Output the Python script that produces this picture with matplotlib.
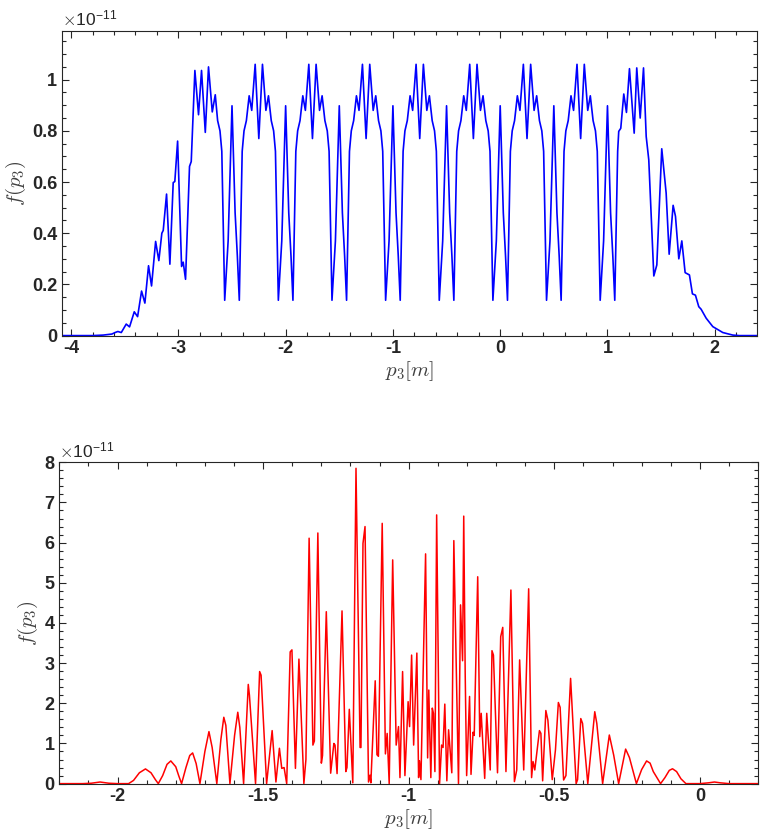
import numpy as np
import matplotlib
matplotlib.use("Agg")
import matplotlib.pyplot as plt
from matplotlib.ticker import MultipleLocator, FormatStrFormatter

# ---------------------------------------------------------------
# values, y in units of 1e-11
# ---------------------------------------------------------------

# top panel, left rising edge
top_x_left = [-4.085, -3.80, -3.70, -3.62, -3.59, -3.564, -3.532, -3.486, -3.455, -3.411,
              -3.380, -3.343, -3.312, -3.278, -3.250, -3.212, -3.182, -3.154, -3.141, -3.110,
              -3.079, -3.048, -3.033, -3.007, -2.970, -2.955, -2.933, -2.896, -2.880, -2.846,
              -2.812, -2.784, -2.749, -2.719, -2.684, -2.656, -2.634, -2.612, -2.595, -2.568,
              -2.536, -2.512]
top_y_left = [0.0, 0.0, 0.002, 0.006, 0.012, 0.016, 0.012, 0.045, 0.034, 0.093,
              0.074, 0.174, 0.127, 0.273, 0.194, 0.368, 0.293, 0.400, 0.411, 0.553,
              0.279, 0.598, 0.602, 0.760, 0.270, 0.287, 0.220, 0.661, 0.680, 1.036,
              0.863, 1.036, 0.794, 1.050, 0.874, 0.941, 0.84, 0.80, 0.72, 0.138,
              0.37, 0.72]

# top panel, repeating middle part (one list per 0.5 wide block)
top_x_mid = [
    [-2.500, -2.488, -2.471, -2.450, -2.432, -2.405, -2.388, -2.366, -2.340, -2.316, -2.284,
     -2.250, -2.216, -2.184, -2.160, -2.134, -2.112, -2.095, -2.068, -2.036, -2.012],
    [-2.000, -1.988, -1.971, -1.950, -1.932, -1.905, -1.888, -1.866, -1.840, -1.816, -1.784,
     -1.750, -1.716, -1.684, -1.660, -1.634, -1.612, -1.595, -1.568, -1.536, -1.512],
    [-1.500, -1.488, -1.471, -1.450, -1.432, -1.405, -1.388, -1.366, -1.340, -1.316, -1.284,
     -1.250, -1.216, -1.184, -1.160, -1.134, -1.112, -1.095, -1.068, -1.036, -1.012],
    [-1.000, -0.988, -0.971, -0.950, -0.932, -0.905, -0.888, -0.866, -0.840, -0.816, -0.784,
     -0.750, -0.716, -0.684, -0.660, -0.634, -0.612, -0.595, -0.568, -0.536, -0.512],
    [-0.500, -0.488, -0.471, -0.450, -0.432, -0.405, -0.388, -0.366, -0.340, -0.316, -0.284,
     -0.250, -0.216, -0.184, -0.160, -0.134, -0.112, -0.095, -0.068, -0.036, -0.012],
    [0.000, 0.012, 0.029, 0.050, 0.068, 0.095, 0.112, 0.134, 0.160, 0.184, 0.216,
     0.250, 0.284, 0.316, 0.340, 0.366, 0.388, 0.405, 0.432, 0.464, 0.488],
    [0.500, 0.512, 0.529, 0.550, 0.568, 0.595, 0.612, 0.634, 0.660, 0.684, 0.716,
     0.750, 0.784, 0.816, 0.840, 0.866, 0.888, 0.905, 0.932, 0.964, 0.988],
]
top_y_mid = [
    [0.898, 0.72, 0.48, 0.31, 0.138, 0.72, 0.80, 0.84, 0.937, 0.880, 1.060,
     0.770, 1.060, 0.880, 0.937, 0.84, 0.80, 0.72, 0.138, 0.37, 0.72],
    [0.898, 0.72, 0.48, 0.31, 0.138, 0.72, 0.80, 0.84, 0.937, 0.880, 1.060,
     0.770, 1.060, 0.880, 0.937, 0.84, 0.80, 0.72, 0.138, 0.37, 0.72],
    [0.898, 0.72, 0.48, 0.31, 0.138, 0.72, 0.80, 0.84, 0.937, 0.880, 1.060,
     0.770, 1.060, 0.880, 0.937, 0.84, 0.80, 0.72, 0.138, 0.37, 0.72],
    [0.898, 0.72, 0.48, 0.31, 0.138, 0.72, 0.80, 0.84, 0.937, 0.880, 1.060,
     0.770, 1.060, 0.880, 0.937, 0.84, 0.80, 0.72, 0.138, 0.37, 0.72],
    [0.898, 0.72, 0.48, 0.31, 0.138, 0.72, 0.80, 0.84, 0.937, 0.880, 1.060,
     0.770, 1.060, 0.880, 0.937, 0.84, 0.80, 0.72, 0.138, 0.37, 0.72],
    [0.898, 0.72, 0.48, 0.31, 0.138, 0.72, 0.80, 0.84, 0.937, 0.880, 1.060,
     0.770, 1.060, 0.880, 0.937, 0.84, 0.80, 0.72, 0.138, 0.37, 0.72],
    [0.898, 0.72, 0.48, 0.31, 0.138, 0.72, 0.80, 0.84, 0.937, 0.880, 1.060,
     0.770, 1.060, 0.880, 0.937, 0.84, 0.80, 0.72, 0.138, 0.37, 0.72],
]

# top panel, right falling edge
top_x_right = [1.000, 1.012, 1.029, 1.050, 1.068, 1.095, 1.105, 1.124, 1.152, 1.177,
               1.205, 1.249, 1.273, 1.305, 1.336, 1.361, 1.385, 1.432, 1.460, 1.506,
               1.547, 1.575, 1.612, 1.634, 1.665, 1.693, 1.724, 1.764, 1.792, 1.820,
               1.851, 1.873, 1.920, 1.982, 2.075, 2.168, 2.23, 2.39]
top_y_right = [0.898, 0.72, 0.48, 0.31, 0.138, 0.72, 0.798, 0.81, 0.944, 0.872,
               1.043, 0.791, 1.046, 0.850, 1.046, 0.778, 0.687, 0.233, 0.276, 0.730,
               0.557, 0.318, 0.509, 0.466, 0.300, 0.370, 0.246, 0.237, 0.163, 0.158,
               0.113, 0.103, 0.068, 0.035, 0.012, 0.002, 0.0, 0.0]

# bottom panel
bot_x = [-2.20, -2.12, -2.09, -2.06, -2.03, -2.00, -1.962, -1.945, -1.925, -1.904,
         -1.885, -1.870, -1.860, -1.845, -1.830, -1.817, -1.800, -1.790, -1.780, -1.765,
         -1.752, -1.742, -1.730, -1.717, -1.700, -1.686, -1.675, -1.659, -1.645, -1.635,
         -1.628, -1.614, -1.598, -1.587, -1.580, -1.567, -1.551, -1.547, -1.526, -1.512,
         -1.507, -1.488, -1.469, -1.456, -1.444, -1.436, -1.428, -1.419, -1.407, -1.401,
         -1.389, -1.377, -1.360, -1.353, -1.342, -1.329, -1.324, -1.312, -1.300, -1.296,
         -1.283, -1.268, -1.257, -1.253, -1.246, -1.229, -1.216, -1.212, -1.204, -1.192,
         -1.181, -1.167, -1.164, -1.157, -1.150, -1.138, -1.133, -1.130, -1.115, -1.109,
         -1.104, -1.091, -1.080, -1.074, -1.067, -1.055, -1.043, -1.035, -1.030, -1.021,
         -1.013, -1.002, -0.997, -0.990, -0.983, -0.972, -0.966, -0.963, -0.958, -0.942,
         -0.935, -0.931, -0.924, -0.919, -0.915, -0.910, -0.904, -0.894, -0.887, -0.882,
         -0.876, -0.869, -0.863, -0.852, -0.845, -0.829, -0.822, -0.815, -0.811, -0.806,
         -0.801, -0.791, -0.786, -0.779, -0.775, -0.763, -0.756, -0.751, -0.739, -0.732,
         -0.720, -0.714, -0.709, -0.695, -0.684, -0.677, -0.666, -0.649, -0.637, -0.629,
         -0.619, -0.605, -0.588, -0.578, -0.573, -0.567, -0.551, -0.546, -0.540, -0.529,
         -0.522, -0.507, -0.496, -0.486, -0.480, -0.468, -0.460, -0.444, -0.425, -0.420,
         -0.409, -0.403, -0.385, -0.361, -0.354, -0.334, -0.311, -0.296, -0.279, -0.255,
         -0.242, -0.218, -0.200, -0.183, -0.171, -0.160, -0.135, -0.120, -0.105, -0.094,
         -0.080, -0.065, -0.048, 0.00, 0.03, 0.05, 0.07, 0.10, 0.20]
bot_y = [0.0, 0.0, 0.01, 0.04, 0.01, 0.0, 0.0, 0.08, 0.27, 0.366,
         0.27, 0.10, 0.0, 0.20, 0.48, 0.565, 0.42, 0.20, 0.0, 0.40,
         0.70, 0.764, 0.50, 0.0, 0.80, 1.295, 0.90, 0.0, 1.10, 1.652,
         1.45, 0.0, 1.20, 1.777, 1.40, 0.0, 2.47, 2.20, 0.0, 2.79,
         2.70, 0.0, 1.32, 0.04, 0.88, 0.38, 0.40, 0.0, 3.28, 3.33,
         0.38, 3.10, 0.0, 0.60, 6.11, 0.96, 1.06, 6.24, 0.51, 0.70,
         4.28, 0.26, 1.00, 0.96, 0.25, 4.30, 0.30, 0.40, 1.85, 0.02,
         7.85, 0.90, 0.90, 5.98, 6.40, 0.04, 0.21, 0.02, 2.56, 0.72,
         0.68, 6.48, 0.74, 1.25, 0.0, 5.57, 0.96, 1.42, 0.15, 2.79,
         0.20, 2.04, 1.42, 3.20, 0.96, 3.25, 0.15, 0.57, 0.10, 5.72,
         0.64, 2.33, 0.15, 1.88, 1.75, 0.30, 6.69, 0.0, 0.96, 0.90,
         1.98, 0.07, 1.34, 0.27, 6.05, 0.0, 4.45, 3.06, 6.66, 2.75,
         0.20, 2.17, 0.23, 1.28, 1.20, 5.15, 1.17, 1.75, 0.13, 1.75,
         0.34, 3.31, 3.20, 0.27, 3.66, 3.89, 0.30, 4.82, 0.05, 0.34,
         3.08, 0.34, 4.85, 0.15, 0.55, 0.34, 1.32, 1.25, 0.07, 1.82,
         1.58, 0.10, 0.84, 2.02, 1.90, 0.09, 0.20, 2.62, 0.0, 0.10,
         1.62, 1.50, 0.0, 1.79, 1.50, 0.0, 1.21, 0.71, 0.0, 0.86,
         0.65, 0.0, 0.35, 0.565, 0.51, 0.30, 0.0, 0.15, 0.33, 0.37,
         0.30, 0.12, 0.0, 0.0, 0.02, 0.04, 0.02, 0.0, 0.0]

top_x = np.concatenate([top_x_left] + top_x_mid + [top_x_right])
top_y = np.concatenate([top_y_left] + top_y_mid + [top_y_right])

plt.rcParams['font.family'] = ['Liberation Sans', 'DejaVu Sans']
plt.rcParams['mathtext.fontset'] = 'cm'
plt.rcParams['axes.unicode_minus'] = False

ink = '#262626'
fig = plt.figure(figsize=(7.65, 8.39), dpi=100, facecolor='white')


def style(ax):
    ax.tick_params(which='both', direction='in', top=True, right=True, colors=ink,
                   labelsize=13, width=0.8)
    ax.tick_params(which='major', length=5)
    ax.tick_params(which='minor', length=3)
    for lab in ax.get_xticklabels() + ax.get_yticklabels():
        lab.set_fontweight('bold')
    for s in ax.spines.values():
        s.set_color(ink)
        s.set_linewidth(0.8)
    ax.set_xlabel(r'$p_3[m]$', fontsize=15, color='#404040', labelpad=1)
    ax.set_ylabel(r'$f(p_3)$', fontsize=15, color='#404040', labelpad=3)
    ax.text(0.0, 1.004, r'$\times$10$^{\mathregular{-11}}$', transform=ax.transAxes,
            fontsize=12.5, color=ink, ha='left', va='bottom')


ax1 = fig.add_axes([0.081, 0.600, 0.908, 0.363])
ax1.plot(top_x, top_y, color='#0000ff', lw=1.2)
ax1.set_xlim(-4.085, 2.39)
ax1.set_ylim(0, 1.19)
ax1.xaxis.set_major_locator(MultipleLocator(1))
ax1.xaxis.set_minor_locator(MultipleLocator(0.2))
ax1.yaxis.set_major_locator(MultipleLocator(0.2))
ax1.yaxis.set_minor_locator(MultipleLocator(0.05))
ax1.yaxis.set_major_formatter(FormatStrFormatter('%g'))
style(ax1)

ax2 = fig.add_axes([0.0775, 0.066, 0.9135, 0.383])
ax2.plot(bot_x, bot_y, color='#ff0000', lw=1.1)
ax2.set_xlim(-2.2, 0.2)
ax2.set_ylim(0, 8)
ax2.xaxis.set_major_locator(MultipleLocator(0.5))
ax2.xaxis.set_minor_locator(MultipleLocator(0.1))
ax2.xaxis.set_major_formatter(FormatStrFormatter('%g'))
ax2.yaxis.set_major_locator(MultipleLocator(1))
ax2.yaxis.set_minor_locator(MultipleLocator(0.2))
style(ax2)

fig.savefig('out.png', dpi=100)
